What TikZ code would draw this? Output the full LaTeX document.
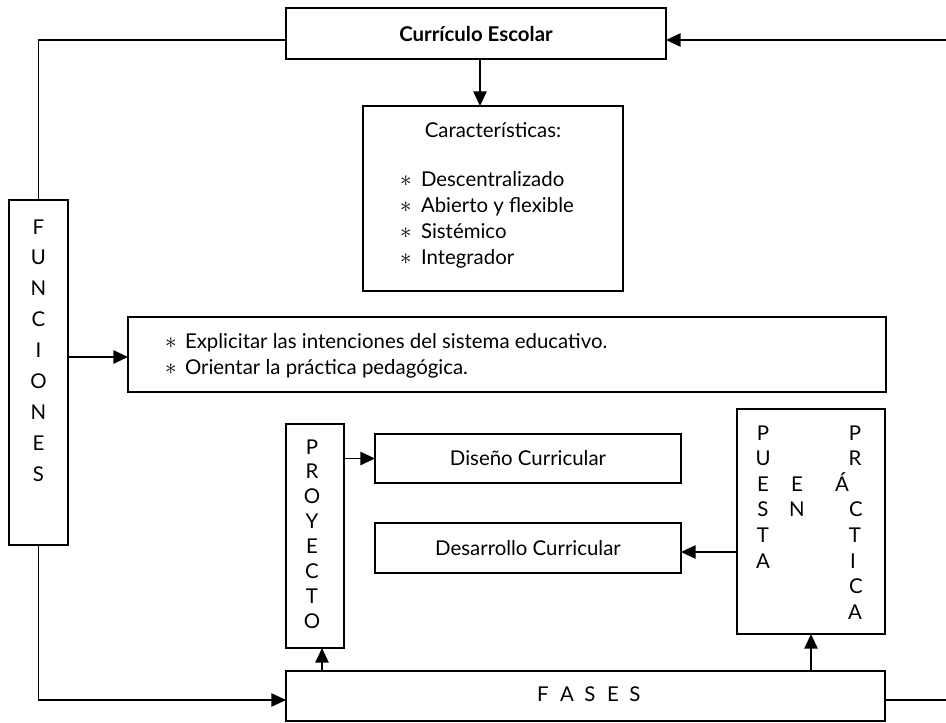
\documentclass[tikz,border=0pt]{standalone}
\usepackage{fontspec}
\setmainfont{Lato}
\usetikzlibrary{arrows.meta}
\begin{document}
\begin{tikzpicture}[x=0.75pt,y=-0.75pt,
  box/.style={draw,line width=1.3pt,inner sep=0pt,outer sep=0pt,rectangle,font=\fontsize{15.3}{18}\selectfont},
  lbl/.style={inner sep=0pt,outer sep=0pt,font=\fontsize{15.3}{18}\selectfont},
  star/.style={inner sep=0pt,outer sep=0pt,anchor=base,font=\fontsize{19}{20}\selectfont},
  conn/.style={line width=1.3pt},
  arr/.style={conn,-{Triangle[length=11pt,width=10pt]}}
]
\useasboundingbox (0,0) rectangle (946,722);
% boxes
\node[box,minimum width=285pt,minimum height=38.25pt,font=\fontsize{15.3}{18}\selectfont\bfseries] (curr) at (476,33.5) {Currículo Escolar};
\node[box,minimum width=195pt,minimum height=138.75pt] (car) at (493,198.5) {};
\node[box,minimum width=44.25pt,minimum height=258.75pt] (fun) at (38.5,372.5) {};
\node[box,minimum width=568.5pt,minimum height=56.25pt] (func) at (507,354.5) {};
\node[box,minimum width=43.5pt,minimum height=168pt] (proy) at (315,536) {};
\node[box,minimum width=229.5pt,minimum height=36.75pt] (dis) at (528,458.5) {Diseño Curricular};
\node[box,minimum width=229.5pt,minimum height=37.5pt] (des) at (528,548) {Desarrollo Curricular};
\node[box,minimum width=111pt,minimum height=168.75pt] (pue) at (811,521.5) {};
\node[box,minimum width=449.25pt,minimum height=37.5pt] (fases) at (585.5,696) {};
% texts
\node[lbl,anchor=base] (cart) at (493,137) {Características:};
\foreach \t/\y [count=\i] in {Descentralizado/186, Abierto y flexible/212, Sistémico/238, Integrador/264} {
  \node[star] (cast\i) at (406,\y) {$\ast$};
  \node[lbl,anchor=base west] (cit\i) at (421,\y) {\t};
}
\node[star] (fast1) at (171,348) {$\ast$};
\node[lbl,anchor=base west] (fit1) at (185,348) {Explicitar las intenciones del sistema educativo.};
\node[star] (fast2) at (171,374) {$\ast$};
\node[lbl,anchor=base west] (fit2) at (185,374) {Orientar la práctica pedagógica.};
\foreach \l [count=\i from 0] in {F,U,N,C,I,O,N,E,S}
  \node[lbl,anchor=base] (fl\i) at (38.5,{234+30.9*\i}) {\l};
\foreach \l [count=\i from 0] in {P,R,O,Y,E,C,T,O}
  \node[lbl,anchor=base] (pl\i) at (312,{454+24.9*\i}) {\l};
\foreach \l [count=\i from 0] in {P,U,E,S,T,A}
  \node[lbl,anchor=base] (ua\i) at (763,{440+25.6*\i}) {\l};
\node[lbl,anchor=base] (ub1) at (797,491.2) {E};
\node[lbl,anchor=base] (ub2) at (797,516.8) {N};
\foreach \l/\x [count=\i from 0] in {P/855,R/855,Á/842,C/856,T/855,I/853,C/856,A/855}
  \node[lbl,anchor=base] (uc\i) at (\x,{440+25.6*\i}) {\l};
\foreach \l/\x [count=\i] in {F/543,A/567,S/590,E/613,S/635}
  \node[lbl,anchor=base] (fs\i) at (\x,701) {\l};
% coordinates
\coordinate (cTR) at (946,40);
\coordinate (cBR) at (946,700);
\coordinate (cTL) at (38.5,40);
\coordinate (cBL) at (38.5,700);
\coordinate (x480) at (480,0);
\coordinate (x322) at (322,0);
\coordinate (y357) at (0,357);
\coordinate (y552) at (0,552);
% connectors
\draw[conn] (curr.west |- cTL) -- (cTL) -- (fun.north);
\draw[arr] (cTR) -- (curr.east |- cTR);
\draw[conn] (fases.east |- cBR) -- (cBR);
\draw[arr] (curr.south -| x480) -- (car.north -| x480);
\draw[arr] (fun.south) -- (cBL) -- (fases.west |- cBL);
\draw[arr] (fun.east |- y357) -- (func.west |- y357);
\draw[arr] (proy.east |- dis.west) -- (dis.west);
\draw[arr] (pue.west |- y552) -- (des.east |- y552);
\draw[arr] (fases.north -| x322) -- (proy.south -| x322);
\draw[arr] (fases.north -| pue.south) -- (pue.south);
\end{tikzpicture}
\end{document}
